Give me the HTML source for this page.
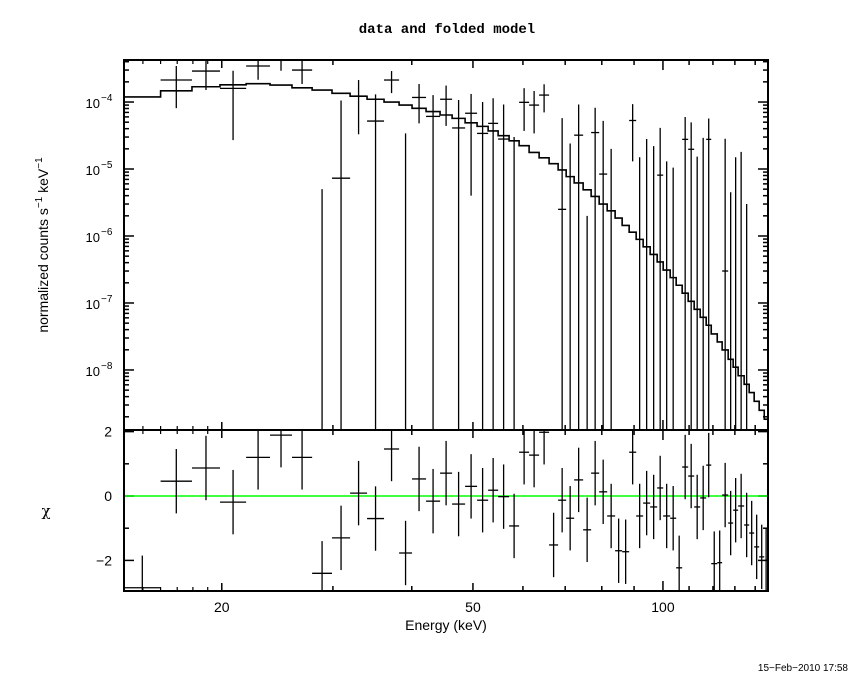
<!DOCTYPE html>
<html><head><meta charset="utf-8"><style>
html,body{margin:0;padding:0;background:#fff;}
svg{display:block;font-family:"Liberation Sans",sans-serif;}
</style></head><body>
<svg id="chart" width="850" height="680" viewBox="0 0 850 680" xmlns="http://www.w3.org/2000/svg">
<rect width="850" height="680" fill="#fff"/>
<text x="447" y="33" font-size="14" text-anchor="middle" font-family="Liberation Mono, monospace" font-weight="bold">data and folded model</text>
<text transform="translate(48,245) rotate(-90)" font-size="14" text-anchor="middle">normalized counts s<tspan dy="-6" font-size="10">−1</tspan><tspan dy="6"> keV</tspan><tspan dy="-6" font-size="10">−1</tspan></text>
<text x="46" y="516" font-size="15" text-anchor="middle" font-family="DejaVu Serif, serif">χ</text>
<text x="446" y="630" font-size="14" text-anchor="middle">Energy (keV)</text>
<text x="848" y="671" font-size="10" text-anchor="end">15−Feb−2010 17:58</text>
<g id="ticks"></g>
<g id="marks"></g>
<rect x="124" y="60" width="644" height="370" fill="none" stroke="#000" stroke-width="2"/>
<rect x="124" y="430" width="644" height="161" fill="none" stroke="#000" stroke-width="2"/>
</svg>
<script>
const edges = [14.0,16.0,17.94,19.87,21.86,23.85,25.84,27.81,29.9,31.94,33.98,36.15,38.19,40.04,42.14,44.35,46.34,48.59,50.76,52.85,54.81,57.05,59.17,61.37,63.65,66.01,68.22,70.25,72.33,74.74,76.95,79.24,81.59,83.99,86.17,88.4,90.69,93.03,95.44,97.91,100.08,102.67,104.94,107.26,109.64,112.06,114.55,117.08,119.26,121.9,124.1,126.86,129.19,131.56,134.47,136.97,139.48,142.05,144.7,146.7];
const model = [1.19e-4,1.47e-4,1.69e-4,1.81e-4,1.88e-4,1.79e-4,1.63e-4,1.51e-4,1.35e-4,1.22e-4,1.10e-4,1.0e-4,9.0e-5,8.05e-5,7.2e-5,6.4e-5,5.7e-5,4.9e-5,4.33e-5,3.7e-5,3.14e-5,2.64e-5,2.23e-5,1.77e-5,1.47e-5,1.2e-5,9.7e-6,7.7e-6,6.2e-6,4.9e-6,3.9e-6,3.0e-6,2.38e-6,1.85e-6,1.44e-6,1.14e-6,8.9e-7,6.9e-7,5.3e-7,4.1e-7,3.1e-7,2.39e-7,1.84e-7,1.40e-7,1.06e-7,8.05e-8,6.1e-8,4.65e-8,3.45e-8,2.62e-8,1.99e-8,1.44e-8,1.10e-8,8.2e-9,6.1e-9,4.6e-9,3.4e-9,2.5e-9,1.84e-9];
const flux = [-1.7e-4,2.13e-4,2.9e-4,1.6e-4,3.45e-4,4.2e-4,3.0e-4,-9.9e-5,7.3e-6,1.23e-4,5.2e-5,2.13e-4,-3.9e-5,1.17e-4,6.1e-5,1.1e-4,4.1e-5,6.8e-5,3.4e-5,4.8e-5,2.8e-5,-2e-5,9.9e-5,9e-5,1.27e-4,-6e-5,2.5e-6,-2.9e-5,3.2e-5,-4.8e-5,3.5e-5,8.4e-6,-2.7e-5,-7e-5,-7e-5,5.3e-5,-2.4e-5,-7.9e-6,-1.1e-5,8.1e-6,-2.0e-5,-2.35e-5,-7e-5,2.77e-5,1.97e-5,-7.7e-6,-1.9e-6,2.77e-5,-6e-5,-6e-5,3e-7,-2.3e-5,-1.2e-5,-8e-6,-2.9e-5,-4e-5,-5e-5,-5e-5,-5e-5];
const fluxErr = [1.0e-4,1.32e-4,1.39e-4,1.33e-4,1.3e-4,1.27e-4,1.14e-4,1.04e-4,9.8e-5,9e-5,7.8e-5,7.7e-5,7.3e-5,6.9e-5,6.6e-5,6.6e-5,6.6e-5,6.4e-5,6.6e-5,6.6e-5,6.4e-5,5e-5,6.2e-5,5.6e-5,5.7e-5,5e-5,5.5e-5,5.3e-5,6e-5,5e-5,4.7e-5,4.4e-5,4.7e-5,4.2e-5,4e-5,4e-5,3.9e-5,3.6e-5,3.3e-5,3.3e-5,3.3e-5,3.4e-5,3.2e-5,3.2e-5,3.0e-5,2.3e-5,3.1e-5,2.9e-5,2.9e-5,2.9e-5,2.8e-5,2.75e-5,2.7e-5,2.6e-5,3.2e-5,2.6e-5,2.6e-5,2.5e-5,2.5e-5];
const chi = [-2.85,0.46,0.87,-0.19,1.2,1.89,1.2,-2.4,-1.3,0.09,-0.7,1.46,-1.77,0.53,-0.16,0.71,-0.25,0.3,-0.13,0.18,-0.02,-0.93,1.36,1.27,1.98,-1.52,-0.13,-0.69,0.5,-1.05,0.71,0.13,-0.62,-1.7,-1.73,1.36,-0.62,-0.22,-0.34,0.25,-0.62,-0.69,-2.23,0.9,0.62,-0.34,-0.06,0.96,-2.1,-2.07,0.03,-0.84,-0.44,-0.31,-0.9,-1.15,-1.58,-1.89,-2.0];
const xTickMajor = [20,50,100];
const yTickDecades = [-4,-5,-6,-7,-8];
const chiTicks = [2,0,-2];

const X0=124,X1=768,EMIN=14.0,EMAX=146.7;
const TY0=60,TY1=430,LMAX=Math.log10(4.24e-4),LMIN=Math.log10(1.27e-9);
const RY0=430,RY1=591,CMAX=2.05,CMIN=-2.95;
const xs=e=>X0+(Math.log10(e/EMIN))/(Math.log10(EMAX/EMIN))*(X1-X0);
const ys=v=>v<=0?TY1+5:Math.max(TY0-5,Math.min(TY1+5,TY0+(LMAX-Math.log10(v))/(LMAX-LMIN)*(TY1-TY0)));
const yr=c=>Math.max(RY0,Math.min(RY1,RY0+(CMAX-c)/(CMAX-CMIN)*(RY1-RY0)));
const NS="http://www.w3.org/2000/svg";
const marks=document.getElementById('marks'), ticks=document.getElementById('ticks');
function ln(p,x1,y1,x2,y2,w){const l=document.createElementNS(NS,'line');l.setAttribute('x1',x1);l.setAttribute('y1',y1);l.setAttribute('x2',x2);l.setAttribute('y2',y2);l.setAttribute('stroke','#000');l.setAttribute('stroke-width',w||1.3);p.appendChild(l);return l;}
function tx(p,x,y,s,anchor,size){const t=document.createElementNS(NS,'text');t.setAttribute('x',x);t.setAttribute('y',y);t.setAttribute('font-size',size||14);t.setAttribute('text-anchor',anchor||'middle');t.textContent=s;p.appendChild(t);return t;}

// x ticks (both panels, top and bottom edges)
for(let e=20;e<=140;e+=10){
  const x=xs(e), len=(e===100)?10:((e===20||e===50)?8:5);
  [[TY0,1],[TY1,-1],[RY0,1],[RY1,-1]].forEach(([y,d])=>{const t=ln(ticks,x,y,x,y+d*len,1.5);

});
}
for(let e=15;e<20;e++){const x=xs(e);[[TY0,1],[TY1,-1],[RY0,1],[RY1,-1]].forEach(([y,d])=>{ln(ticks,x,y,x,y+d*4,1.2);});}
xTickMajor.forEach(e=>{const t=tx(ticks,xs(e),612,String(e));

});
// y ticks top panel
for(let d=-9;d<=-3;d++){for(let m=1;m<10;m++){const v=m*Math.pow(10,d);const y=ys(v);if(y<TY0||y>TY1)continue;const len=m===1?10:5;ln(ticks,X0,y,X0+len,y,1.5);ln(ticks,X1,y,X1-len,y,1.5);}}
yTickDecades.forEach(d=>{const y=ys(Math.pow(10,d));const t=document.createElementNS(NS,'text');t.setAttribute('x',100);t.setAttribute('y',y+6);t.setAttribute('font-size',13);t.setAttribute('text-anchor','end');t.textContent='10';


ticks.appendChild(t);tx(ticks,101,y-1,'−'+(-d),'start',10);});
// chi ticks
for(let c=-2;c<=2;c++){const y=yr(c);const len=(c%2===0)?10:5;ln(ticks,X0,y,X0+len,y,1.5);ln(ticks,X1,y,X1-len,y,1.5);}
chiTicks.forEach(c=>{const t=tx(ticks,112,yr(c)+5,c<0?'−'+(-c):String(c),'end',14);

});

// model step line
let d='';
model.forEach((m,i)=>{const y=ys(m);d+=(i===0?'M':'L')+xs(edges[i])+','+y+'L'+xs(edges[i+1])+','+y;});
const mp=document.createElementNS(NS,'path');mp.setAttribute('d',d);mp.setAttribute('fill','none');mp.setAttribute('stroke','#000');mp.setAttribute('stroke-width',1.6);


marks.appendChild(mp);

// data points
const clipTop=v=>Math.max(TY0,Math.min(TY1,v));
flux.forEach((f,i)=>{
  const xl=xs(edges[i]),xh=xs(edges[i+1]),xc=xs(Math.sqrt(edges[i]*edges[i+1]));
  const up=f+fluxErr[i], lo=f-fluxErr[i];
  const g=document.createElementNS(NS,'g');
  
  
  marks.appendChild(g);
  if(up>0){const y1=clipTop(ys(up)),y2=clipTop(ys(lo));if(y2>y1)ln(g,xc,y1,xc,y2,1.3);}
  if(f>0){const y=ys(f);if(y>=TY0&&y<=TY1)ln(g,xl,y,xh,y,1.3);}
});
// residuals
const zl=document.createElementNS(NS,'line');zl.setAttribute('x1',X0);zl.setAttribute('x2',X1);zl.setAttribute('y1',yr(0));zl.setAttribute('y2',yr(0));zl.setAttribute('stroke','#00ff00');zl.setAttribute('stroke-width',1.5);


marks.appendChild(zl);
chi.forEach((c,i)=>{
  const xl=xs(edges[i]),xh=xs(edges[i+1]),xc=xs(Math.sqrt(edges[i]*edges[i+1]));
  const g=document.createElementNS(NS,'g');
  
  
  marks.appendChild(g);
  ln(g,xc,yr(c+1),xc,yr(c-1),1.3);
  const y=yr(c); if(c<=CMAX&&c>=CMIN) ln(g,xl,y,xh,y,1.3);
});
</script>
</body></html>
